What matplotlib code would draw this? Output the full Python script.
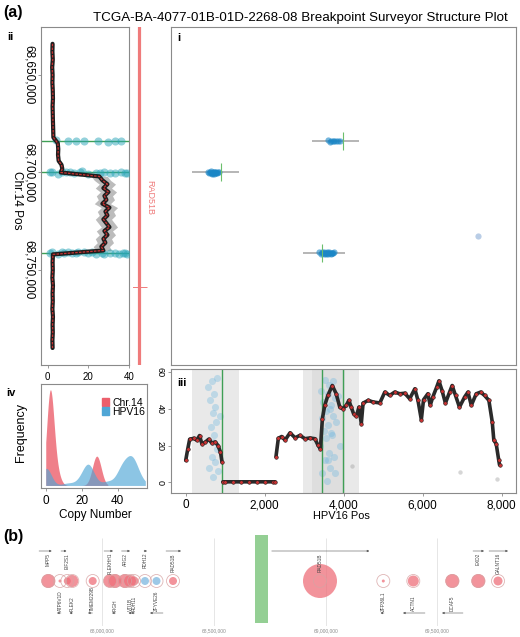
import numpy as np
import matplotlib
matplotlib.use("Agg")
import matplotlib.pyplot as plt
from matplotlib.patches import Patch
from matplotlib.ticker import FuncFormatter

plt.rcParams['font.family'] = ['Liberation Sans', 'DejaVu Sans']

title = "TCGA-BA-4077-01B-01D-2268-08 Breakpoint Surveyor Structure Plot"

# chr14 copy number along position (kb)
chr_pos_kb = [68634, 68638, 68642, 68646, 68650, 68654, 68658, 68662, 68666, 68670,
              68674, 68678, 68682, 68685, 68688, 68691, 68694, 68696, 68698, 68700,
              68702, 68704, 68706, 68708, 68710, 68712, 68714, 68716, 68718, 68720,
              68722, 68724, 68726, 68728, 68730, 68732, 68734, 68736, 68738, 68740,
              68742, 68746, 68750, 68754, 68758, 68762, 68766, 68770, 68774, 68778,
              68782, 68786, 68790]
chr_cn = [2.4, 2.3, 2.5, 2.2, 2.4, 2.3, 2.5, 2.6, 2.4, 2.5,
          2.6, 2.7, 2.8, 5.0, 5.2, 5.1, 5.4, 6.8, 7.2, 6.5,
          25.5, 27.0, 29.5, 27.5, 30.0, 28.0, 29.0, 27.0, 30.5, 28.5,
          29.5, 27.5, 29.0, 30.5, 28.0, 29.5, 27.5, 28.5, 26.5, 27.5,
          2.6, 2.4, 2.5, 2.3, 2.6, 2.4, 2.5, 2.3, 2.6, 2.4,
          2.5, 2.3, 2.4]
chr_spread = [0.8] * 20 + [4.0] * 20 + [0.8] * 13

# HPV16 copy number along HPV16 position (None = no coverage break)
hpv_pos = [0, 50, 100, 200, 280, 350, 410, 500, 580, 660, 750, 820, 880, 920, 930,
           940, 1000, 1200, 1400, 1600, 1800, 2000, 2200, 2260, 2270,
           2285, 2345, 2430, 2515, 2640, 2770, 2890, 3020, 3140, 3270, 3350, 3410,
           3460, 3520, 3600, 3710, 3810, 3900, 3980, 4065, 4130, 4190, 4250, 4320,
           4385, 4445, 4490, 4620, 4745, 4915, 5040, 5165, 5290, 5420, 5545, 5670,
           5800, 5880, 5965, 6020, 6130, 6190, 6255, 6355, 6410, 6490, 6575, 6680,
           6745, 6830, 6930, 7060, 7145, 7230, 7355, 7465, 7565, 7675, 7760, 7800,
           7860, 7925, 7945]
hpv_cn = [12, 18, 23.5, 24, 23, 25.5, 21, 22, 23.5, 21.5, 22, 20, 16.5, 11, None,
          0.3, 0.3, 0.3, 0.3, 0.3, 0.3, 0.3, 0.3, 0.3, None,
          14, 24, 25, 23, 27, 24.3, 25.6, 23.8, 24.2, 23.8, 20.2, 18.4,
          34.7, 42, 47.4, 52.8, 48.3, 41, 40.2, 42, 44.7, 41, 37.4, 36,
          41, 32, 43.2, 44.7, 43.8, 43.3, 49.2, 47.4, 49.2, 48.3, 48.6, 45.6,
          51, 44.7, 34.2, 45, 48.3, 42, 46.5, 52, 55.3, 50, 43.2, 49.2,
          52.8, 47.4, 41, 46.5, 49.2, 42, 48.3, 49.2, 47.4, 44.7, 33, 23,
          21, 12, 9.5]
hpv_low_pos = [4200, 6950, 7880]
hpv_low_cn = [8.7, 5.5, 2.0]

# breakpoints (HPV16 pos, chr14 pos) and HPV windows
bp_hpv = [911, 3982, 3458]
bp_chr = [68700000, 68683850, 68741300]
win_lo = [160, 3197, 2962]
win_hi = [1349, 4387, 4033]

# discordant reads
read_hpv = [575, 600, 620, 640, 655, 668, 680, 690, 700, 712, 725, 738, 750, 765, 780, 800, 825, 860,
            3610, 3650, 3690, 3730, 3770, 3800, 3850, 3900,
            3390, 3420, 3445, 3460, 3480, 3500, 3515, 3530, 3545, 3560, 3575, 3590, 3605, 3620,
            3640, 3660, 3680, 3700, 3720, 3745, 3770]
read_chr = [68699600, 68700300, 68699800, 68700500, 68699400, 68700100, 68700700, 68699700,
            68700200, 68699500, 68700600, 68699900, 68700400, 68699600, 68700100, 68700300,
            68699800, 68700000,
            68683500, 68684200, 68683700, 68684000, 68683600, 68684100, 68683800, 68683900,
            68741000, 68741600, 68740900, 68741500, 68741200, 68741800, 68740800, 68741400,
            68741100, 68741700, 68741300, 68740900, 68741600, 68741000, 68741500, 68741200,
            68741800, 68741100, 68741400, 68741300, 68741000]
read_y_iii = [52, 8, 45, 30, 14, 55, 38, 22, 3, 48, 26, 11, 41, 33, 18, 57, 6, 36,
              12, 40, 27, 55, 5, 33, 47, 20,
              20, 50, 35, 5, 44, 28, 56, 12, 39, 24, 1, 48, 31, 16, 53, 8, 42, 26, 36, 14, 46]
read_x_ii = [1, 24, 9, 33, 17, 38, 5, 28, 13, 36, 20, 2, 31, 11, 26, 39, 7, 16,
             4, 30, 18, 36, 10, 25, 14, 33,
             2, 35, 15, 27, 8, 39, 22, 12, 31, 5, 37, 18, 28, 10, 33, 1, 24, 14, 38, 20, 7]
stray_hpv = [7405]
stray_chr = [68732560]

rad51b_mark = 68758900

# genes near the integration site
gene_names = ["MPP5", "ATP6V1D", "EIF2S1", "PLEK2", "TMEM229B", "PLEKHH1", "PIGH", "ARG2",
              "VTI1B", "RDH11", "RDH12", "ZFYVE26", "RAD51B", "RAD51B", "ZFP36L1", "ACTN1",
              "DCAF5", "EXD2", "GALNT16"]
gene_pos = [67758300, 67810700, 67843300, 67865700, 67957000, 68034500, 68056800, 68101600,
            68124000, 68141900, 68191100, 68242600, 68316500, 68974400, 69257800, 69392000,
            69566600, 69683000, 69771200]
gene_start = [67716700, 67797200, 67815100, 67853200, 67936000, 68007600, 68043400, 68085900,
              68117300, 68128500, 68186600, 68213500, 68285100, 68758200, 69245200, 69345900,
              69520500, 69659200, 69730900]
gene_end = [67773500, 67815100, 67839800, 67866600, 67956100, 68047900, 68059100, 68124000,
            68130700, 68144100, 68200100, 68271700, 68352300, 69195100, 69260900, 69444400,
            69614500, 69708500, 69815900]
gene_strand = [1, -1, 1, -1, -1, 1, -1, 1, -1, -1, 1, -1, 1, 1, -1, -1, -1, 1, 1]
gene_fold = [7, 1.5, 3.5, 6, 4, 6.5, 7, 7, 6, 4.5, -4, -4, 4, 17, 1.5, 5.5, 7, 7, 4.5]

fig = plt.figure(figsize=(5.2, 6.37), dpi=100)


def rect(x0, y0, x1, y1):
    return [x0 / 520, 1 - y1 / 637, (x1 - x0) / 520, (y1 - y0) / 637]


comma = FuncFormatter(lambda v, p: f"{v:,.0f}")
spine_c = '#8a8a8a'
green = '#3f9f55'


def style(ax):
    for s in ax.spines.values():
        s.set_color(spine_c)
        s.set_linewidth(0.8)
    ax.tick_params(color=spine_c, length=2.5, width=0.6, pad=2)


chr_pos = np.array(chr_pos_kb) * 1000
chr_cn_a = np.array(chr_cn)
chr_sp = np.array(chr_spread)
hpv_pos_a = np.array(hpv_pos, dtype=float)
hpv_cn_a = np.array(hpv_cn, dtype=float)

ylim_chr = (68798870, 68625540)
xlim_hpv = (-380, 8354)

# ---- panel ii ----
ax2 = fig.add_axes(rect(40.7, 27.3, 128.7, 365.3))
style(ax2)
ax2.fill_betweenx(chr_pos, chr_cn_a - chr_sp, chr_cn_a + chr_sp, color='#222222',
                  alpha=0.3, lw=0)
for b in bp_chr:
    ax2.axhline(b, color=green, lw=1.0, zorder=2)
ax2.scatter(read_x_ii, read_chr, s=34, color='#2aa5b8', alpha=0.5, lw=0, zorder=3)
ax2.plot(chr_cn_a, chr_pos, color='#1e1e1e', lw=3.0, zorder=4, solid_capstyle='round')
ax2.plot(chr_cn_a, chr_pos, color='#c83232', lw=0.9, ls=(0, (2, 1)), zorder=5)
ax2.set_xlim(-3.45, 40)
ax2.set_ylim(*ylim_chr)
ax2.set_xticks([0, 20, 40])
ax2.set_yticks([68650000, 68700000, 68750000])
ax2.yaxis.set_major_formatter(comma)
ax2.tick_params(axis='x', labelsize=7)
ax2.tick_params(axis='y', labelsize=8.5, labelrotation=-90)
for lab in ax2.get_yticklabels():
    lab.set_va('center')

# gene track next to panel ii
axg = fig.add_axes(rect(133, 27.3, 160, 365.3), sharey=ax2)
axg.set_xlim(0, 1)
axg.axvline(0.233, color='#ef7b7b', lw=2.3)
axg.plot([0.233], [rad51b_mark], marker='_', ms=12, mew=0.7, color='#ef7b7b')
axg.text(0.61, 68712700, "RAD51B", color='#ef7b7b', fontsize=6.5, rotation=-90,
         ha='center', va='center')
axg.axis('off')

# ---- panel i ----
ax1 = fig.add_axes(rect(170.5, 27.3, 515.5, 365.3))
style(ax1)
ax1.hlines(bp_chr, win_lo, win_hi, color='#b0b0b0', lw=1.3, zorder=1)
ax1.scatter(read_hpv, read_chr, s=20, color='#1a86c6', alpha=0.6, lw=0, zorder=2)
ax1.plot(bp_hpv, bp_chr, ls='none', marker='|', ms=13, mew=0.8, color='#6cbf6c', zorder=3)
ax1.scatter(stray_hpv, stray_chr, s=20, color='#b9cde6', lw=0)
ax1.set_xlim(*xlim_hpv)
ax1.set_ylim(*ylim_chr)
ax1.set_xticks([])
ax1.set_yticks([])

# ---- panel iii ----
ax3 = fig.add_axes(rect(170.7, 369, 515.7, 493))
style(ax3)
for lo, hi in zip(win_lo, win_hi):
    ax3.axvspan(lo, hi, color='#d4d4d4', alpha=0.5, lw=0, zorder=0)
ax3.scatter(read_hpv, read_y_iii, s=26, color='#6cb6df', alpha=0.35, lw=0, zorder=1)
for b in bp_hpv:
    ax3.axvline(b, color=green, lw=1.0, zorder=2)
ax3.scatter(hpv_low_pos, hpv_low_cn, s=10, color='#999999', alpha=0.4, lw=0)
ax3.plot(hpv_pos_a, hpv_cn_a, color='#2a2a2a', lw=2.6, zorder=3, solid_capstyle='round')
ax3.plot(hpv_pos_a, hpv_cn_a, color='#c83232', lw=1.0, zorder=4, ls='none',
         marker='o', ms=2.6, mec='#222222', mew=0.4)
ax3.set_xlim(*xlim_hpv)
ax3.set_ylim(-5.8, 61.8)
ax3.set_xticks([0, 2000, 4000, 6000, 8000])
ax3.xaxis.set_major_formatter(comma)
ax3.set_yticks([0, 20, 40, 60])
ax3.tick_params(axis='x', labelsize=8.5)
ax3.tick_params(axis='y', labelsize=6.5, labelrotation=-90)
for lab in ax3.get_yticklabels():
    lab.set_va('center')

# ---- panel iv ----
ax4 = fig.add_axes(rect(40.7, 384, 147.3, 488.3))
style(ax4)


def kde(vals, w, grid, bw):
    d = (grid[:, None] - vals[None, :]) / bw
    return (np.exp(-0.5 * d ** 2) @ w) / (w.sum() * bw * np.sqrt(2 * np.pi))


ok = ~np.isnan(hpv_cn_a)
hv = hpv_cn_a[ok]
hw = np.gradient(hpv_pos_a[ok])
cw = np.gradient(chr_pos.astype(float))
g_chr = np.linspace(0, chr_cn_a.max() + 4, 300)
g_hpv = np.linspace(0, hv.max(), 300)
d_chr = kde(chr_cn_a, cw, g_chr, 2.0)
d_hpv = kde(hv, hw, g_hpv, 2.8)
ax4.fill_between(g_chr, 0, d_chr, color='#ec5f6c', alpha=0.8, lw=0)
ax4.fill_between(g_hpv, 0, d_hpv, color='#4fa6d6', alpha=0.65, lw=0)
ax4.set_xlim(-2.8, 56.4)
ax4.set_ylim(-0.004, d_chr.max() * 1.06)
ax4.set_xticks([0, 20, 40])
ax4.set_yticks([])
ax4.tick_params(axis='x', labelsize=8.5)
ax4.legend(handles=[Patch(color='#ec5f6c'), Patch(color='#4fa6d6')],
           labels=["Chr.14", "HPV16"], loc='upper right', bbox_to_anchor=(1.03, 0.92),
           frameon=False, fontsize=7.5, handlelength=0.7, handleheight=0.7,
           handletextpad=0.3, labelspacing=-0.1, borderpad=0)

# ---- panel b ----
axb = fig.add_axes(rect(0, 530, 520, 626))
axb.set_xlim(67542100, 69869600)
axb.set_ylim(96, 0)
for s in axb.spines.values():
    s.set_visible(False)
grid_ticks = [68000000, 68500000, 69000000, 69500000]
axb.vlines(grid_ticks, 8, 96, color='#e2e2e2', lw=0.6, zorder=0)
axb.fill_betweenx([5, 93], min(bp_chr), max(bp_chr), color='#94cf94', lw=0, zorder=1)
axb.set_xticks(grid_ticks)
axb.xaxis.set_major_formatter(comma)
axb.tick_params(axis='x', length=0, labelsize=3.5, labelcolor='#8c8c8c', pad=2)
axb.set_yticks([])
fold = np.array(gene_fold)
cols = ['#ee6f7a' if f > 0 else '#7db7e0' for f in fold]
axb.scatter(gene_pos, [51] * len(gene_pos), s=(1.44 * np.abs(fold)) ** 2, color=cols,
            alpha=0.75, lw=0, zorder=2)
axb.scatter(gene_pos, [51] * len(gene_pos), s=(1.44 * 6.5) ** 2, facecolor='none',
            edgecolor='#d7a3a3', lw=0.6, alpha=0.8, zorder=3)
for name, p, s0, e0, st in zip(gene_names, gene_pos, gene_start, gene_end, gene_strand):
    if st > 0:
        ya, yt, va, a, b = 21, 23, 'top', s0, e0
    else:
        ya, yt, va, a, b = 83, 81, 'bottom', e0, s0
    axb.annotate('', xy=(b, ya), xytext=(a, ya),
                 arrowprops=dict(arrowstyle='-|>', lw=0.4, color='#555555',
                                 mutation_scale=3, shrinkA=0, shrinkB=0))
    axb.text(p, yt, name, rotation=90, fontsize=3.4, color='#444444', ha='center', va=va)

# ---- text ----
def ftext(x, y, s, **kw):
    fig.text(x / 520, 1 - y / 637, s, **kw)


ftext(3, 13, "(a)", fontsize=11.5, weight='bold', va='center')
ftext(3, 536, "(b)", fontsize=11.5, weight='bold', va='center')
ftext(300, 18, title, fontsize=9.6, ha='center', va='center')
ftext(7, 37, "ii", fontsize=8, weight='bold', va='center')
ftext(177, 38, "i", fontsize=8, weight='bold', va='center')
ftext(177, 383, "iii", fontsize=8, weight='bold', va='center')
ftext(6, 393, "iv", fontsize=8, weight='bold', va='center')
ftext(17, 200, "Chr.14 Pos", fontsize=8.5, rotation=-90, ha='center', va='center')
ftext(21, 433, "Frequency", fontsize=9, rotation=90, ha='center', va='center')
ftext(95, 515, "Copy Number", fontsize=8.5, ha='center', va='center')
ftext(341, 516, "HPV16 Pos", fontsize=7.9, ha='center', va='center')

fig.savefig("out.png", dpi=100)
